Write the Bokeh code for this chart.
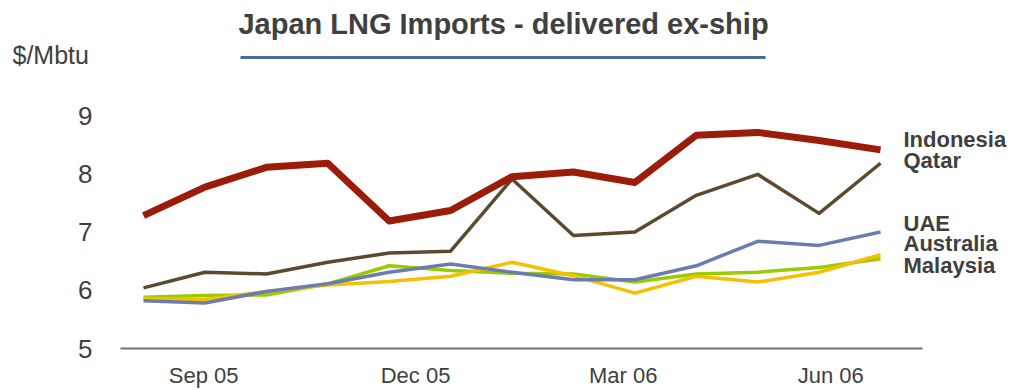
from bokeh.plotting import figure
from bokeh.layouts import column
from bokeh.models import FixedTicker, Label, Range1d
from bokeh.embed import file_html
from bokeh.resources import INLINE

# ---- data ----
periods = list(range(13))
indonesia = [7.28, 7.77, 8.11, 8.18, 7.19, 7.37, 7.95, 8.03, 7.85, 8.66, 8.71, 8.57, 8.41]
qatar     = [6.04, 6.31, 6.28, 6.48, 6.64, 6.67, 7.91, 6.94, 7.00, 7.63, 7.99, 7.32, 8.18]
uae       = [5.82, 5.78, 5.98, 6.11, 6.31, 6.45, 6.31, 6.18, 6.18, 6.42, 6.84, 6.77, 7.00]
australia = [5.86, 5.84, 5.98, 6.09, 6.15, 6.24, 6.48, 6.25, 5.95, 6.24, 6.14, 6.31, 6.61]
malaysia  = [5.88, 5.91, 5.92, 6.11, 6.42, 6.34, 6.29, 6.28, 6.14, 6.28, 6.31, 6.39, 6.54]
tick_pos = [0.98, 4.43, 7.81, 11.19]
tick_labels = ["Sep 05", "Dec 05", "Mar 06", "Jun 06"]
y_ticks = [5, 6, 7, 8, 9]
title_text = "Japan LNG Imports - delivered ex-ship"
unit_text = "$/Mbtu"

FONT = "Liberation Sans"
TXT = "#404040"

# ---------- header figure (title, underline, unit) ----------
HDR_H = 70
h = figure(width=1014, height=HDR_H, output_backend="svg", toolbar_location=None,
           x_range=Range1d(0, 1014), y_range=Range1d(HDR_H, 0),
           min_border=0, min_border_left=0, min_border_right=0,
           min_border_top=0, min_border_bottom=0,
           x_axis_type=None, y_axis_type=None)
h.frame_align = False
h.outline_line_color = None
h.xgrid.grid_line_color = None
h.ygrid.grid_line_color = None
h.add_layout(Label(x=503, y=23, text=title_text, text_font=FONT, text_font_size="29px",
                   text_font_style="bold", text_color=TXT, text_align="center",
                   text_baseline="middle"))
h.add_layout(Label(x=12, y=54, text=unit_text, text_font=FONT, text_font_size="25px",
                   text_color=TXT, text_align="left", text_baseline="middle"))
h.segment(x0=[240], y0=[57], x1=[765], y1=[57], line_color="#4a6a9a", line_width=3)

# ---------- main chart ----------
MAIN_H = 390 - HDR_H
L = 120                 # frame left (px)
AXIS_R = 922            # axis line right end (px)
T_abs, B_abs = 90, 348  # frame top / bottom in page px
x0px, dx = 143.0, 61.42
y5px, dy = 348.0, 58.25

def xd(px):
    return (px - x0px) / dx

def yd(py):
    return 5.0 + (y5px - py) / dy

p = figure(width=1014, height=MAIN_H, output_backend="svg", toolbar_location=None,
           x_range=Range1d(xd(L), xd(1014)), y_range=Range1d(yd(B_abs), yd(T_abs)),
           min_border_left=L, min_border_right=0, min_border_top=T_abs - HDR_H,
           min_border_bottom=390 - B_abs)
p.frame_align = False
p.outline_line_color = None
p.xgrid.grid_line_color = None
p.ygrid.grid_line_color = None

p.xaxis.ticker = FixedTicker(ticks=tick_pos)
p.xaxis.major_label_overrides = {t: l for t, l in zip(tick_pos, tick_labels)}
p.xaxis.bounds = (xd(L), xd(AXIS_R))
p.xaxis.axis_line_color = "#707070"
p.xaxis.axis_line_width = 2
p.xaxis.major_tick_line_color = None
p.xaxis.minor_tick_line_color = None
p.xaxis.major_tick_out = 0
p.xaxis.major_tick_in = 0
p.xaxis.major_label_standoff = 14
p.xaxis.major_label_text_font = FONT
p.xaxis.major_label_text_font_size = "22px"
p.xaxis.major_label_text_color = TXT

p.yaxis.ticker = FixedTicker(ticks=y_ticks)
p.yaxis.axis_line_color = None
p.yaxis.major_tick_line_color = None
p.yaxis.minor_tick_line_color = None
p.yaxis.major_tick_out = 0
p.yaxis.major_tick_in = 0
p.yaxis.major_label_standoff = 28
p.yaxis.major_label_text_font = FONT
p.yaxis.major_label_text_font_size = "26px"
p.yaxis.major_label_text_color = TXT

series = [
    ("Malaysia", malaysia, "#99cc00", 3.5),
    ("Australia", australia, "#f5c000", 3.5),
    ("UAE", uae, "#6b7db0", 3.5),
    ("Qatar", qatar, "#5c4a30", 3.5),
    ("Indonesia", indonesia, "#9c1c0a", 7),
]
for name, vals, col, w in series:
    p.line(periods, vals, line_color=col, line_width=w, line_join="round")

end_labels = [("Indonesia", 138.5), ("Qatar", 160), ("UAE", 223), ("Australia", 243), ("Malaysia", 265)]
for name, py in end_labels:
    p.add_layout(Label(x=xd(903), y=yd(py), text=name, text_font=FONT, text_font_size="22px",
                       text_font_style="bold", text_color=TXT, text_baseline="middle",
                       text_align="left"))

layout = column(h, p, spacing=0)
open("out.html", "w").write(file_html(layout, INLINE))
